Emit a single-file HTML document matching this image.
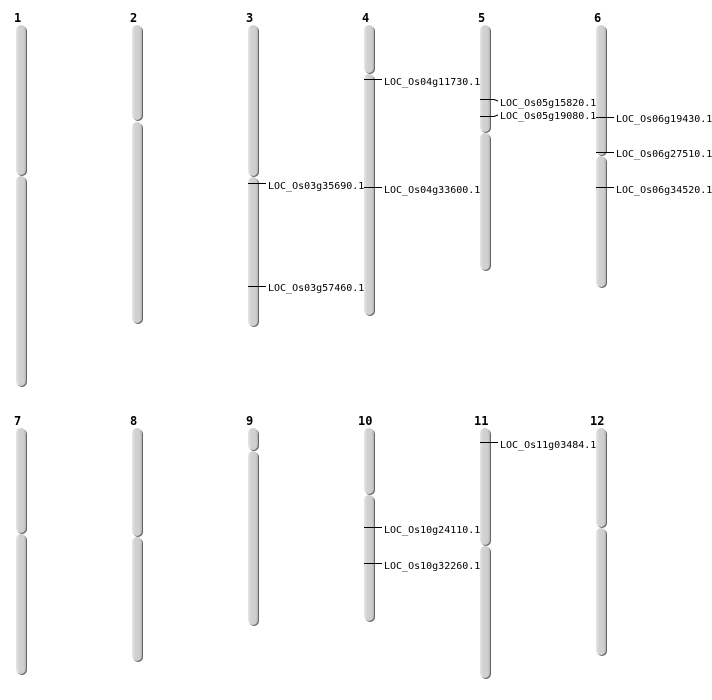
<!DOCTYPE html>
<html><head><meta charset="utf-8"><style>body{margin:0;background:#fff}svg{display:block}</style></head><body>
<svg width="712" height="700" viewBox="0 0 712 700" xmlns="http://www.w3.org/2000/svg">
<defs>
<linearGradient id="g" x1="0" x2="1" y1="0" y2="0">
<stop offset="0" stop-color="#e6e6e6"/><stop offset="0.3" stop-color="#d3d3d3"/><stop offset="0.8" stop-color="#cdcdcd"/><stop offset="1" stop-color="#b0b0b0"/>
</linearGradient>
<g id="d"></g>
</defs>
<g font-family="'DejaVu Sans Mono','Liberation Mono',monospace" font-size="12" font-weight="bold" fill="#000">
<text x="14" y="22">1</text><text x="130" y="22">2</text><text x="246" y="22">3</text><text x="362" y="22">4</text><text x="478" y="22">5</text><text x="594" y="22">6</text>
<text x="14" y="425">7</text><text x="130" y="425">8</text><text x="246" y="425">9</text><text x="358" y="425">10</text><text x="474" y="425">11</text><text x="590" y="425">12</text>
</g>
<g stroke="none">
<!-- shadows -->
<g fill="#666">
<rect x="17" y="26" width="10" height="150" rx="5"/><rect x="17" y="177" width="10" height="210" rx="5"/>
<rect x="133" y="26" width="10" height="95" rx="5"/><rect x="133" y="123" width="10" height="201" rx="5"/>
<rect x="249" y="26" width="10" height="151" rx="5"/><rect x="249" y="178" width="10" height="149" rx="5"/>
<rect x="365" y="26" width="10" height="48" rx="5"/><rect x="365" y="75" width="10" height="241" rx="5"/>
<rect x="481" y="26" width="10" height="107" rx="5"/><rect x="481" y="134" width="10" height="137" rx="5"/>
<rect x="597" y="26" width="10" height="130" rx="5"/><rect x="597" y="157" width="10" height="131" rx="5"/>
<rect x="17" y="429" width="10" height="105" rx="5"/><rect x="17" y="535" width="10" height="140" rx="5"/>
<rect x="133" y="429" width="10" height="108" rx="5"/><rect x="133" y="538" width="10" height="124" rx="5"/>
<rect x="249" y="429" width="10" height="22" rx="5"/><rect x="249" y="452" width="10" height="174" rx="5"/>
<rect x="365" y="429" width="10" height="66" rx="5"/><rect x="365" y="496" width="10" height="126" rx="5"/>
<rect x="481" y="429" width="10" height="117" rx="5"/><rect x="481" y="547" width="10" height="132" rx="5"/>
<rect x="597" y="429" width="10" height="99" rx="5"/><rect x="597" y="529" width="10" height="127" rx="5"/>
</g>
<g fill="url(#g)">
<rect x="16" y="25" width="10" height="150" rx="5"/><rect x="16" y="176" width="10" height="210" rx="5"/>
<rect x="132" y="25" width="10" height="95" rx="5"/><rect x="132" y="122" width="10" height="201" rx="5"/>
<rect x="248" y="25" width="10" height="151" rx="5"/><rect x="248" y="177" width="10" height="149" rx="5"/>
<rect x="364" y="25" width="10" height="48" rx="5"/><rect x="364" y="74" width="10" height="241" rx="5"/>
<rect x="480" y="25" width="10" height="107" rx="5"/><rect x="480" y="133" width="10" height="137" rx="5"/>
<rect x="596" y="25" width="10" height="130" rx="5"/><rect x="596" y="156" width="10" height="131" rx="5"/>
<rect x="16" y="428" width="10" height="105" rx="5"/><rect x="16" y="534" width="10" height="140" rx="5"/>
<rect x="132" y="428" width="10" height="108" rx="5"/><rect x="132" y="537" width="10" height="124" rx="5"/>
<rect x="248" y="428" width="10" height="22" rx="5"/><rect x="248" y="451" width="10" height="174" rx="5"/>
<rect x="364" y="428" width="10" height="66" rx="5"/><rect x="364" y="495" width="10" height="126" rx="5"/>
<rect x="480" y="428" width="10" height="117" rx="5"/><rect x="480" y="546" width="10" height="132" rx="5"/>
<rect x="596" y="428" width="10" height="99" rx="5"/><rect x="596" y="528" width="10" height="127" rx="5"/>
</g>
</g>
<g stroke="#000" stroke-width="1" fill="none">
<path d="M248 183.5H266"/><path d="M248 286.5H266"/>
<path d="M364 79.5H382"/><path d="M364 187.5H382"/>
<path d="M480 99.5H494L498 101"/><path d="M480 116.5H494L498 115"/>
<path d="M596 117.5H614"/><path d="M596 152.5H614"/><path d="M596 187.5H614"/>
<path d="M364 527.5H382"/><path d="M364 563.5H382"/>
<path d="M480 442.5H498"/>
</g>
<g font-family="'DejaVu Sans Mono','Liberation Mono',monospace" font-size="10" fill="#000">
<text x="268" y="189">LOC_Os03g35690.1</text><text x="268" y="291">LOC_Os03g57460.1</text>
<text x="384" y="85">LOC_Os04g11730.1</text><text x="384" y="193">LOC_Os04g33600.1</text>
<text x="500" y="106">LOC_Os05g15820.1</text><text x="500" y="119">LOC_Os05g19080.1</text>
<text x="616" y="122">LOC_Os06g19430.1</text><text x="616" y="157">LOC_Os06g27510.1</text><text x="616" y="193">LOC_Os06g34520.1</text>
<text x="384" y="533">LOC_Os10g24110.1</text><text x="384" y="569">LOC_Os10g32260.1</text>
<text x="500" y="448">LOC_Os11g03484.1</text>
</g>
</svg>
</body></html>
